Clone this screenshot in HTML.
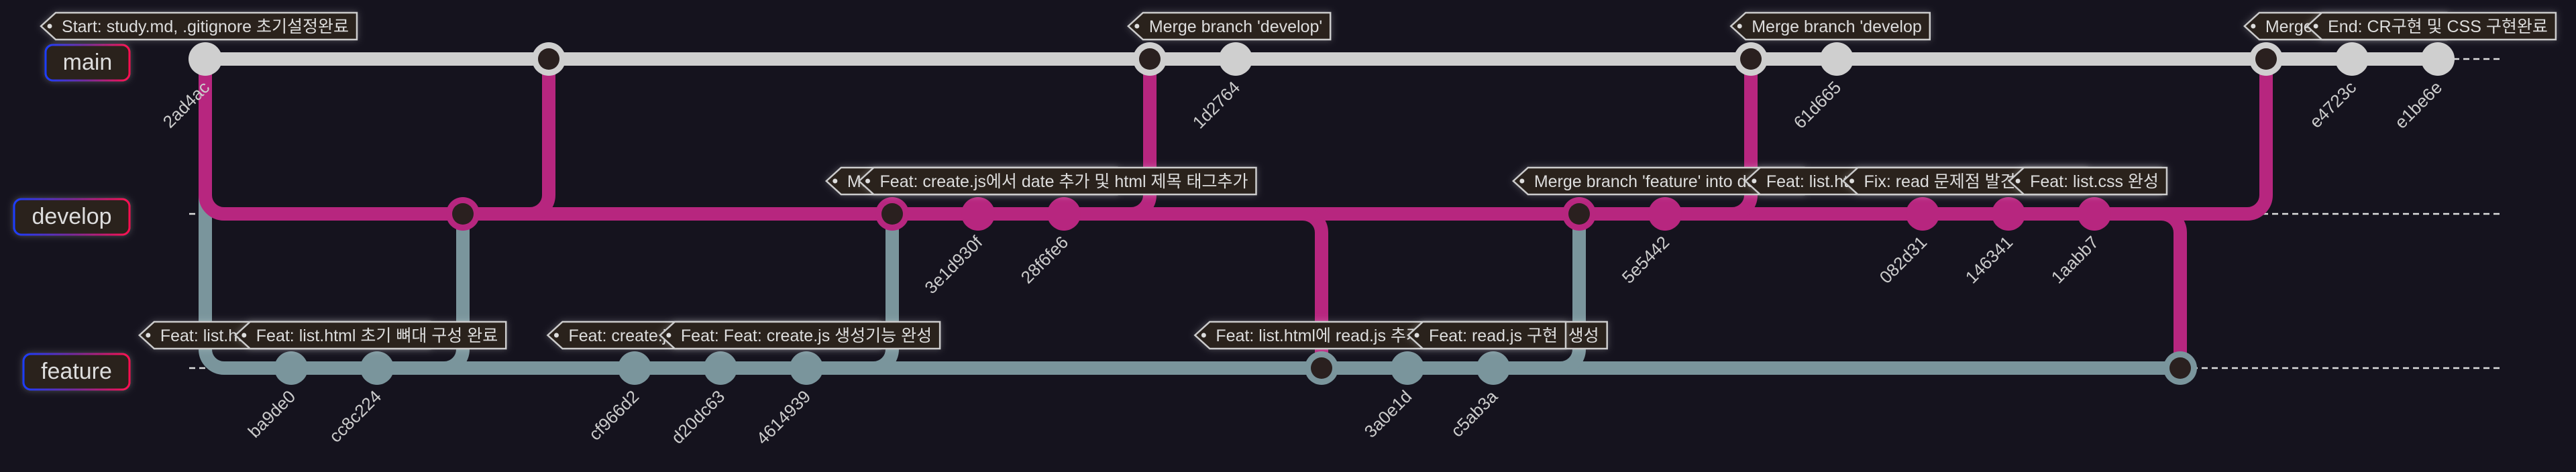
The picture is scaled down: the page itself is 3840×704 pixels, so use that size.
<!DOCTYPE html>
<html><head><meta charset="utf-8">
<style>
html,body{margin:0;padding:0;background:#15131e;}
svg{display:block;}
text{font-family:"Liberation Sans","Noto Sans CJK KR",sans-serif;}
</style></head>
<body>
<svg id="g" width="3840" height="704" viewBox="0 0 3840 704" xmlns="http://www.w3.org/2000/svg">
<defs>
<linearGradient id="bg" x1="0" x2="1" y1="0" y2="0"><stop offset="0" stop-color="#1a3cff"/><stop offset="0.5" stop-color="#7a2a9a"/><stop offset="1" stop-color="#ff1050"/></linearGradient>
<filter id="glow" x="-20%" y="-50%" width="140%" height="200%"><feDropShadow dx="0" dy="0" stdDeviation="5" flood-color="#ffffff" flood-opacity="0.25"/></filter>
</defs>
<rect width="3840" height="704" fill="#15131e"/>
<g id="lanes"></g><g id="edges"></g><g id="dots"></g><g id="hashes"></g><g id="blabels"></g><g id="tags"></g>
</svg>
<script>
const branchNames = ["main","develop","feature"];
const commitIds = ["2ad4ac","ba9de0","cc8c224","m3","m4","cf966d2","d20dc63","4614939","m8","3e1d930f","28f6fe6","m11","1d2764","m13","3a0e1d","c5ab3a","m16","5e5442","m18","61d665","082d31","146341","1aabb7","m23","m24","e4723c","e1be6e"];
const commitBranch = [0,2,2,1,0,2,2,2,1,1,1,0,0,2,2,2,1,1,0,0,1,1,1,2,0,0,0];
const commitMerge = [false,false,false,true,true,false,false,false,true,false,false,true,false,true,false,false,true,false,true,false,false,false,false,true,true,false,false];
const mergeSource = [-1,-1,-1,2,3,-1,-1,-1,7,-1,-1,10,-1,10,-1,-1,15,-1,17,-1,-1,-1,-1,22,22,-1,-1];
const commitTags = ["Start: study.md, .gitignore 초기설정완료","Feat: list.html 파일 생성 및 연결 완료","Feat: list.html 초기 뼈대 구성 완료","","","","Feat: create.js 파일 생성 및 구조 작성 완료","Feat: Feat: create.js 생성기능 완성","","Merge branch 'feature' into develop","Feat: create.js에서 date 추가 및 html 제목 태그추가","","Merge branch 'develop'","","Feat: list.html에 read.js 추가 및 목록 리스트 화면 생성","Feat: read.js 구현","","Merge branch 'feature' into develop","","Merge branch 'develop","Feat: list.html 화면 구성 및 스타일 일부 수정","Fix: read 문제점 발견되어 로직 일부 수정","Feat: list.css 완성","","","Merge branch 'develop'","End: CR구현 및 CSS 구현완료"];

const colors = ["#cfcfcf","#b7267f","#7a959c"];
const laneY = [88,319,549];
const X0 = 306, STEP = 128, R = 28;
const xOf = i => X0 + i*STEP;
const yOf = b => laneY[b];
const NS = "http://www.w3.org/2000/svg";
function mk(tag, parent, attrs){const e=document.createElementNS(NS,tag);for(const k in attrs)e.setAttribute(k,attrs[k]);document.getElementById(parent).appendChild(e);return e;}

for(let b=0;b<3;b++){
  const l=mk("line","lanes",{x1:282,x2:3731,y1:yOf(b),y2:yOf(b),stroke:"#dddddd","stroke-width":2.5,"stroke-dasharray":"9,6"});
  
  
}
function horizFirst(x1,y1,x2,y2){const d=y2<y1?-1:1;return `M${x1} ${y1} L${x2-R} ${y1} A${R} ${R} 0 0 ${d<0?0:1} ${x2} ${y1+d*R} L${x2} ${y2}`;}
function downFirst(x1,y1,x2,y2){return `M${x1} ${y1} L${x1} ${y2-R} A${R} ${R} 0 0 0 ${x1+R} ${y2} L${x2} ${y2}`;}
function edge(d,color,name){const p=mk("path","edges",{d:d,fill:"none",stroke:color,"stroke-width":20});}

const order=[2,1,0];
for(const b of order){
  const idx=[];commitBranch.forEach((cb,i)=>{if(cb===b)idx.push(i);});
  for(let k=1;k<idx.length;k++) edge(`M${xOf(idx[k-1])} ${yOf(b)} L${xOf(idx[k])} ${yOf(b)}`,colors[b],branchNames[b]+'-line');
  if(b!==0) edge(downFirst(xOf(0),yOf(0),xOf(idx[0]),yOf(b)),colors[b],branchNames[b]+'-branch-off');
}
mergeSource.forEach((s,i)=>{ if(s<0) return;
  const sb=commitBranch[s], tb=commitBranch[i];
  edge(horizFirst(xOf(s),yOf(sb),xOf(i),yOf(tb)),colors[sb],'merge-edge-'+commitIds[i]);
});
commitIds.forEach((id,i)=>{
  const b=commitBranch[i];
  const c=mk("circle","dots",{cx:xOf(i),cy:yOf(b),r:25,fill:colors[b]});
  
  
  if(commitMerge[i]){const ic=mk("circle","dots",{cx:xOf(i),cy:yOf(b),r:16,fill:"#2a201f"});
    
    }
  else{
    const x=xOf(i)+8,y=yOf(b)+44;
    const t=mk("text","hashes",{x:x,y:y,fill:"#cccccc","font-size":26,"text-anchor":"end",transform:`rotate(-45 ${x} ${y})`});
    t.textContent=id;
    
    
  }
});
const bl=[[68,67,125],[21,297,172],[35,528,158]];
branchNames.forEach((n,b)=>{
  const r=mk("rect","blabels",{x:bl[b][0],y:bl[b][1],width:bl[b][2],height:53,rx:11,fill:"#2a201f",stroke:"url(#bg)","stroke-width":3,filter:"url(#glow)"});
  
  
  const t=mk("text","blabels",{x:bl[b][0]+bl[b][2]/2,y:bl[b][1]+37,fill:"#dddddd","font-size":34,"text-anchor":"middle"});
  t.textContent=n;
  
  
});
commitTags.forEach((tg,i)=>{ if(!tg) return;
  const b=commitBranch[i], cx=xOf(i), cy=yOf(b)-49;
  const g=mk("g","tags",{});
  
  
  const poly=document.createElementNS(NS,"polygon");g.appendChild(poly);
  const hole=document.createElementNS(NS,"circle");g.appendChild(hole);
  const t=document.createElementNS(NS,"text");g.appendChild(t);
  t.setAttribute("font-size",25);t.setAttribute("fill","#dddddd");t.textContent=tg;
  t.setAttribute("y",cy+9);t.setAttribute("x",0);
  const w=t.getComputedTextLength();
  const tx=cx-w/2; t.setAttribute("x",tx);
  const x0=tx-31,x1=tx+w+12,y0=cy-20,y1=cy+20;
  poly.setAttribute("points",`${x0} ${cy} ${x0+22} ${y0} ${x1} ${y0} ${x1} ${y1} ${x0+22} ${y1}`);
  poly.setAttribute("fill","#2a201f");poly.setAttribute("stroke","#cccccc");poly.setAttribute("stroke-width",2.5);poly.setAttribute("filter","url(#glow)");
  hole.setAttribute("cx",x0+13);hole.setAttribute("cy",cy);hole.setAttribute("r",3.5);hole.setAttribute("fill","#dddddd");
});
</script>
</body></html>
